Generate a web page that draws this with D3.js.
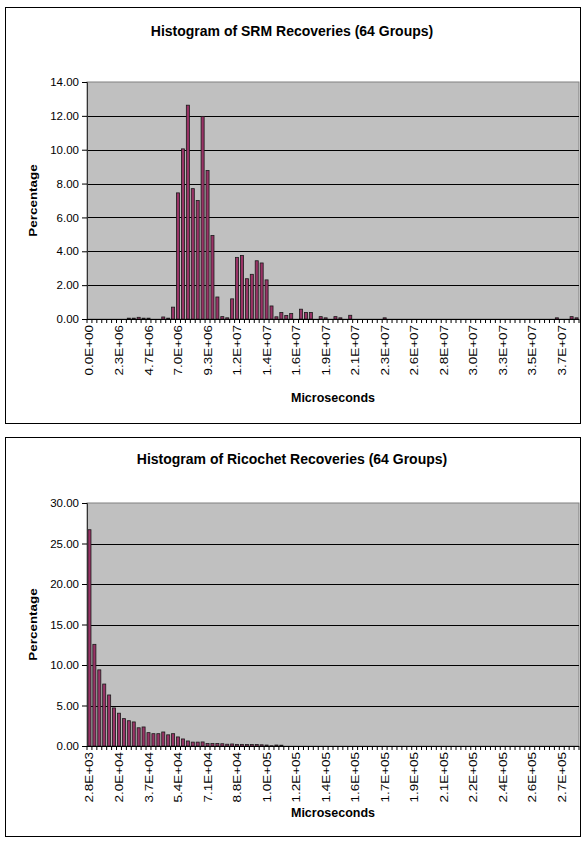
<!DOCTYPE html>
<html>
<head>
<meta charset="utf-8">
<script src="https://cdn.jsdelivr.net/npm/d3@7"></script>
<style>
  body { margin: 0; background: #fff; }
  svg { display: block; font-family: Arial, "Liberation Sans", sans-serif; }
</style>
</head>
<body>
<div id="chart"></div>
<script>
const width = 584;
const height = 846;

// Percentage per bin (100 bins each)
const srmValues = [
  0, 0, 0, 0, 0, 0, 0, 0, 0.05, 0.05,
  0.1, 0.05, 0.05, 0, 0, 0.12, 0.05, 0.7, 7.45, 10.05,
  12.63, 7.7, 7.0, 11.97, 8.77, 4.93, 1.3, 0.14, 0.07, 1.19,
  3.64, 3.75, 2.38, 2.64, 3.44, 3.31, 2.31, 0.77, 0.13, 0.39,
  0.21, 0.32, 0, 0.58, 0.39, 0.39, 0, 0.14, 0.07, 0,
  0.14, 0.07, 0, 0.22, 0, 0, 0, 0, 0, 0,
  0.07, 0, 0, 0, 0, 0, 0, 0, 0, 0,
  0, 0, 0, 0, 0, 0, 0, 0, 0, 0,
  0, 0, 0, 0, 0, 0, 0, 0, 0, 0,
  0, 0, 0, 0, 0, 0.07, 0, 0, 0.14, 0.07
];
const srmTickLabels = [
  "0.0E+00", "2.3E+06", "4.7E+06", "7.0E+06", "9.3E+06", "1.2E+07", "1.4E+07",
  "1.6E+07", "1.9E+07", "2.1E+07", "2.3E+07", "2.6E+07", "2.8E+07", "3.0E+07",
  "3.3E+07", "3.5E+07", "3.7E+07"
];

const ricochetValues = [
  26.7, 12.55, 9.4, 7.65, 6.3, 4.7, 4.05, 3.38, 3.12, 2.97,
  2.25, 2.35, 1.65, 1.52, 1.52, 1.73, 1.38, 1.52, 1.12, 0.87,
  0.62, 0.48, 0.48, 0.5, 0.3, 0.3, 0.3, 0.28, 0.22, 0.25,
  0.2, 0.2, 0.18, 0.18, 0.18, 0.15, 0.12, 0.03, 0.12, 0.1,
  0, 0, 0, 0, 0, 0, 0, 0, 0, 0,
  0, 0, 0, 0, 0, 0, 0, 0, 0, 0,
  0, 0, 0, 0, 0, 0, 0, 0, 0, 0,
  0, 0, 0, 0, 0, 0, 0, 0, 0, 0,
  0, 0, 0, 0, 0, 0, 0, 0, 0, 0,
  0, 0, 0, 0, 0, 0, 0, 0, 0, 0
];
const ricochetTickLabels = [
  "2.8E+03", "2.0E+04", "3.7E+04", "5.4E+04", "7.1E+04", "8.8E+04", "1.0E+05",
  "1.2E+05", "1.4E+05", "1.6E+05", "1.7E+05", "1.9E+05", "2.1E+05", "2.2E+05",
  "2.4E+05", "2.6E+05", "2.7E+05"
];
const labelEvery = 6;

const svg = d3.select("#chart")
    .append("svg")
    .attr("width", width)
    .attr("height", height)
    .attr("viewBox", `0 0 ${width} ${height}`);

// le texte vertical de la référence est un peu étiré
const stretch = 1.17;

function drawHistogram(cfg) {
    const g = svg.append("g");

    // cadre du graphique
    g.append("rect")
        .attr("x", 5.5).attr("y", cfg.frameTop + 0.5)
        .attr("width", 575).attr("height", cfg.frameBottom - cfg.frameTop)
        .attr("fill", "#fff").attr("stroke", "#000");

    g.append("text")
        .attr("x", 292).attr("y", cfg.titleY)
        .attr("text-anchor", "middle")
        .attr("font-size", 14).attr("font-weight", "bold")
        .text(cfg.title);

    const left = 87, right = 579;
    const x = d3.scaleBand()
        .domain(d3.range(cfg.values.length))
        .range([left, right])
        .paddingInner(0.38).paddingOuter(0.19);
    const y = d3.scaleLinear().domain([0, cfg.yMax]).range([cfg.bottom, cfg.top]);

    g.append("rect")
        .attr("x", left).attr("y", cfg.top)
        .attr("width", right - left).attr("height", cfg.bottom - cfg.top)
        .attr("fill", "#c0c0c0").attr("stroke", "#808080");

    const yTicks = d3.range(0, cfg.yMax + cfg.yStep / 2, cfg.yStep);
    g.selectAll(".grid")
        .data(yTicks.filter(t => t > 0 && t < cfg.yMax))
        .enter().append("line")
        .attr("x1", left).attr("x2", right)
        .attr("y1", d => Math.round(y(d)) + 0.5).attr("y2", d => Math.round(y(d)) + 0.5)
        .attr("stroke", "#000");

    // barres
    g.selectAll(".bar")
        .data(cfg.values.map((v, i) => ({ v, i })).filter(d => d.v > 0))
        .enter().append("rect")
        .attr("x", d => x(d.i))
        .attr("y", d => y(d.v))
        .attr("width", x.bandwidth())
        .attr("height", d => y(0) - y(d.v))
        .attr("fill", "#993366")
        .attr("stroke", "#1a1a1a")
        .attr("stroke-width", 0.8);

    // axe Y
    const yAxis = d3.axisLeft(y)
        .tickValues(yTicks)
        .tickFormat(d3.format(".2f"))
        .tickSize(5)
        .tickPadding(3);
    g.append("g")
        .attr("transform", `translate(${left},0)`)
        .call(yAxis)
        .call(a => a.select(".domain").attr("stroke", "#333"))
        .call(a => a.selectAll("text").attr("font-size", 11.5).attr("fill", "#000").attr("font-family", null));

    // axe X : traits entre les catégories
    g.append("line")
        .attr("x1", left).attr("x2", right)
        .attr("y1", cfg.bottom + 0.5).attr("y2", cfg.bottom + 0.5)
        .attr("stroke", "#000");
    const step = x.step();
    g.selectAll(".xtick")
        .data(d3.range(cfg.values.length + 1))
        .enter().append("line")
        .attr("x1", i => left + i * step).attr("x2", i => left + i * step)
        .attr("y1", cfg.bottom).attr("y2", cfg.bottom + 4)
        .attr("stroke", "#000");

    g.selectAll(".xlabel")
        .data(cfg.labels)
        .enter().append("text")
        .attr("transform", (d, k) => {
            const cx = x(k * labelEvery) + x.bandwidth() / 2;
            return `translate(${cx + 4},${cfg.bottom + 6}) rotate(-90) scale(${stretch},1)`;
        })
        .attr("text-anchor", "end")
        .attr("font-size", 11.5)
        .text(d => d);

    g.append("text")
        .attr("x", (left + right) / 2).attr("y", cfg.xTitleY)
        .attr("text-anchor", "middle")
        .attr("font-size", 12.5).attr("font-weight", "bold")
        .text("Microseconds");

    g.append("text")
        .attr("transform", `translate(37,${(cfg.top + cfg.bottom) / 2}) rotate(-90) scale(${stretch},1)`)
        .attr("text-anchor", "middle")
        .attr("font-size", 11.5).attr("font-weight", "bold")
        .text("Percentage");
}

drawHistogram({
    title: "Histogram of SRM Recoveries (64 Groups)",
    values: srmValues, labels: srmTickLabels,
    frameTop: 7, frameBottom: 423, titleY: 36,
    top: 82, bottom: 319, yMax: 14, yStep: 2, xTitleY: 402
});

drawHistogram({
    title: "Histogram of Ricochet Recoveries (64 Groups)",
    values: ricochetValues, labels: ricochetTickLabels,
    frameTop: 437, frameBottom: 836, titleY: 464,
    top: 503, bottom: 746, yMax: 30, yStep: 5, xTitleY: 817
});
</script>
</body>
</html>
